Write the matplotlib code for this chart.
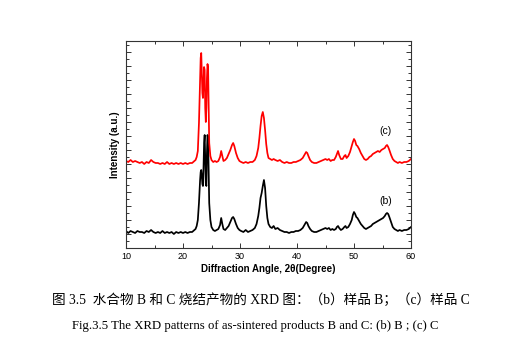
#coding: utf-8

import matplotlib
matplotlib.use("Agg")
import matplotlib.pyplot as plt
from matplotlib.ticker import MultipleLocator, NullFormatter

# 2theta grid shared by both patterns (degree)
two_theta = [
    10.0, 10.4, 10.8, 11.2, 11.6, 12.0, 12.4, 12.8, 13.2, 13.6, 14.0, 14.4, 14.8,
    15.2, 15.6, 16.0, 16.4, 16.8, 17.2, 17.6, 18.0, 18.4, 18.8, 19.2, 19.6, 20.0,
    20.4, 20.8, 21.2, 21.6, 22.0,
    22.2, 22.4, 22.6, 22.8, 23.0, 23.1, 23.2, 23.3, 23.4, 23.5, 23.6, 23.7, 23.8,
    23.9, 24.0, 24.1, 24.2, 24.3, 24.4, 24.5, 24.6, 24.8, 25.0, 25.3, 25.6, 25.9,
    26.2, 26.5, 26.7, 26.9, 27.1, 27.4, 27.7, 28.0, 28.3, 28.6, 28.8, 29.0, 29.3,
    29.6, 29.9, 30.2, 30.6, 31.0, 31.4, 31.8, 32.2, 32.6, 32.9, 33.2, 33.4, 33.6,
    33.8, 34.0, 34.2, 34.4, 34.6, 34.8, 35.0, 35.3, 35.6, 35.9, 36.2, 36.6, 37.0,
    37.4, 37.8, 38.2, 38.6, 39.0, 39.4, 39.8, 40.2, 40.6, 41.0, 41.3, 41.6, 41.8,
    42.0, 42.3, 42.6, 43.0, 43.4, 43.8, 44.2, 44.6, 45.0, 45.3, 45.6, 45.9, 46.2,
    46.5, 46.8, 47.0, 47.2, 47.4, 47.7, 48.0, 48.3, 48.5, 48.7, 49.0, 49.3, 49.6,
    49.8, 50.0, 50.2, 50.4, 50.6, 50.9, 51.2, 51.5, 51.8, 52.1, 52.4, 52.7, 53.0,
    53.3, 53.6, 53.9, 54.2, 54.5, 54.8, 55.1, 55.4, 55.6, 55.8, 56.0, 56.2, 56.5,
    56.8, 57.1, 57.4, 57.7, 58.0, 58.4, 58.8, 59.2, 59.6, 60.0,
]

# sample B (black)
intensity_b = [
    17, 15, 17, 16, 15, 17, 16, 16, 15, 17, 16, 18, 16,
    15, 16, 15, 17, 15, 16, 15, 16, 14, 16, 15, 16, 15,
    16, 15, 16, 16, 18,
    19, 22, 28, 45, 68, 76, 78, 72, 64, 62, 80, 105, 113,
    90, 65, 62, 95, 113, 110, 80, 45, 28, 21, 18, 17, 18,
    19, 23, 30, 24, 19, 18, 20, 22, 26, 30, 31, 29, 24,
    20, 18, 17, 16, 18, 16, 17, 18, 20, 24, 32, 40, 50,
    55, 62, 68, 60, 42, 30, 24, 21, 20, 22, 19, 20, 18,
    17, 16, 16, 15, 16, 16, 17, 17, 18, 20, 23, 26, 25,
    22, 19, 17, 16, 16, 17, 18, 19, 20, 19, 20, 18, 19,
    18, 19, 21, 22, 20, 18, 19, 21, 22, 20, 21, 24, 28,
    33, 36, 34, 31, 30, 27, 24, 22, 20, 19, 20, 21, 22,
    24, 25, 26, 27, 28, 29, 30, 32, 34, 35, 34, 31, 26,
    21, 19, 18, 17, 18, 17, 18, 18, 19, 21,
]

# sample C (red)
intensity_c = [
    87, 86, 88, 86, 87, 86, 85, 86, 84, 86, 85, 88, 86,
    85, 85, 84, 85, 84, 86, 84, 85, 84, 85, 84, 85, 84,
    85, 84, 85, 85, 87,
    88, 91, 97, 125, 170, 190, 195, 175, 155, 150, 165, 181, 178,
    140, 126, 140, 170, 184, 180, 140, 105, 92, 88, 86, 87, 86,
    87, 91, 97, 92, 87, 88, 90, 94, 98, 103, 105, 102, 95,
    90, 87, 86, 85, 86, 85, 86, 86, 88, 92, 100, 110, 122,
    132, 136, 130, 118, 104, 95, 90, 89, 88, 89, 88, 87, 88,
    86, 85, 86, 85, 85, 86, 86, 87, 88, 90, 93, 96, 95,
    92, 88, 86, 85, 85, 86, 87, 88, 89, 88, 89, 87, 88,
    88, 91, 94, 97, 93, 89, 89, 92, 93, 90, 92, 96, 102,
    106, 109, 107, 103, 102, 99, 95, 92, 89, 88, 89, 91, 92,
    94, 95, 96, 97, 96, 98, 99, 100, 102, 103, 101, 98, 93,
    89, 87, 86, 85, 86, 85, 86, 86, 87, 89,
]

labels = ["(b)", "(c)"]
label_pos = [(55.6, 47), (55.6, 117)]

caption_cn = "图 3.5  水合物 B 和 C 烧结产物的 XRD 图：（b）样品 B；（c）样品 C"
caption_en = "Fig.3.5 The XRD patterns of as-sintered products B and C: (b) B ; (c) C"


def main():
    fg = plt.figure(figsize=(5.11, 3.43), dpi=100)
    ax = fg.add_axes([126 / 511, 95 / 343, 285 / 511, 207 / 343])

    ax.plot(two_theta, intensity_b, color="black", lw=1.25)
    ax.plot(two_theta, intensity_c, color="#ff0000", lw=1.25)

    for txt, (x, y) in zip(labels, label_pos):
        ax.text(x, y, txt, fontsize=7.5, family="Liberation Sans",
                ha="center", va="center")

    ax.set_xlim(10, 60)
    ax.set_ylim(0, 207)
    ax.xaxis.set_major_locator(MultipleLocator(10))
    ax.xaxis.set_minor_locator(MultipleLocator(5))
    ax.yaxis.set_major_locator(MultipleLocator(14))
    ax.yaxis.set_minor_locator(MultipleLocator(7))
    ax.yaxis.set_major_formatter(NullFormatter())
    ax.tick_params(which="both", direction="in", top=True, right=True,
                   width=0.7, color="#333333")
    ax.tick_params(which="major", length=3.5)
    ax.tick_params(which="minor", length=2.2)
    ax.tick_params(axis="x", labelsize=6.5, pad=3)
    for lbl in ax.get_xticklabels():
        lbl.set_family("Liberation Sans")
    for sp in ax.spines.values():
        sp.set_linewidth(0.8)
        sp.set_color("#333333")

    ax.set_xlabel("Diffraction Angle, 2\u03b8(Degree)", fontsize=7,
                  fontweight="bold", family="Liberation Sans", labelpad=2)
    ax.set_ylabel("Intensity (a.u.)", fontsize=7, fontweight="bold",
                  family="Liberation Sans", labelpad=1)

    fg.text(0.51, 1 - 300 / 343, caption_cn, fontsize=9.8,
            family=["Liberation Serif", "Noto Sans CJK SC"],
            ha="center", va="center")
    fg.text(0.5, 1 - 326 / 343, caption_en, fontsize=9.2,
            family="Liberation Serif", ha="center", va="center")

    fg.savefig("out.png", dpi=100)


if __name__ == "__main__":
    main()
